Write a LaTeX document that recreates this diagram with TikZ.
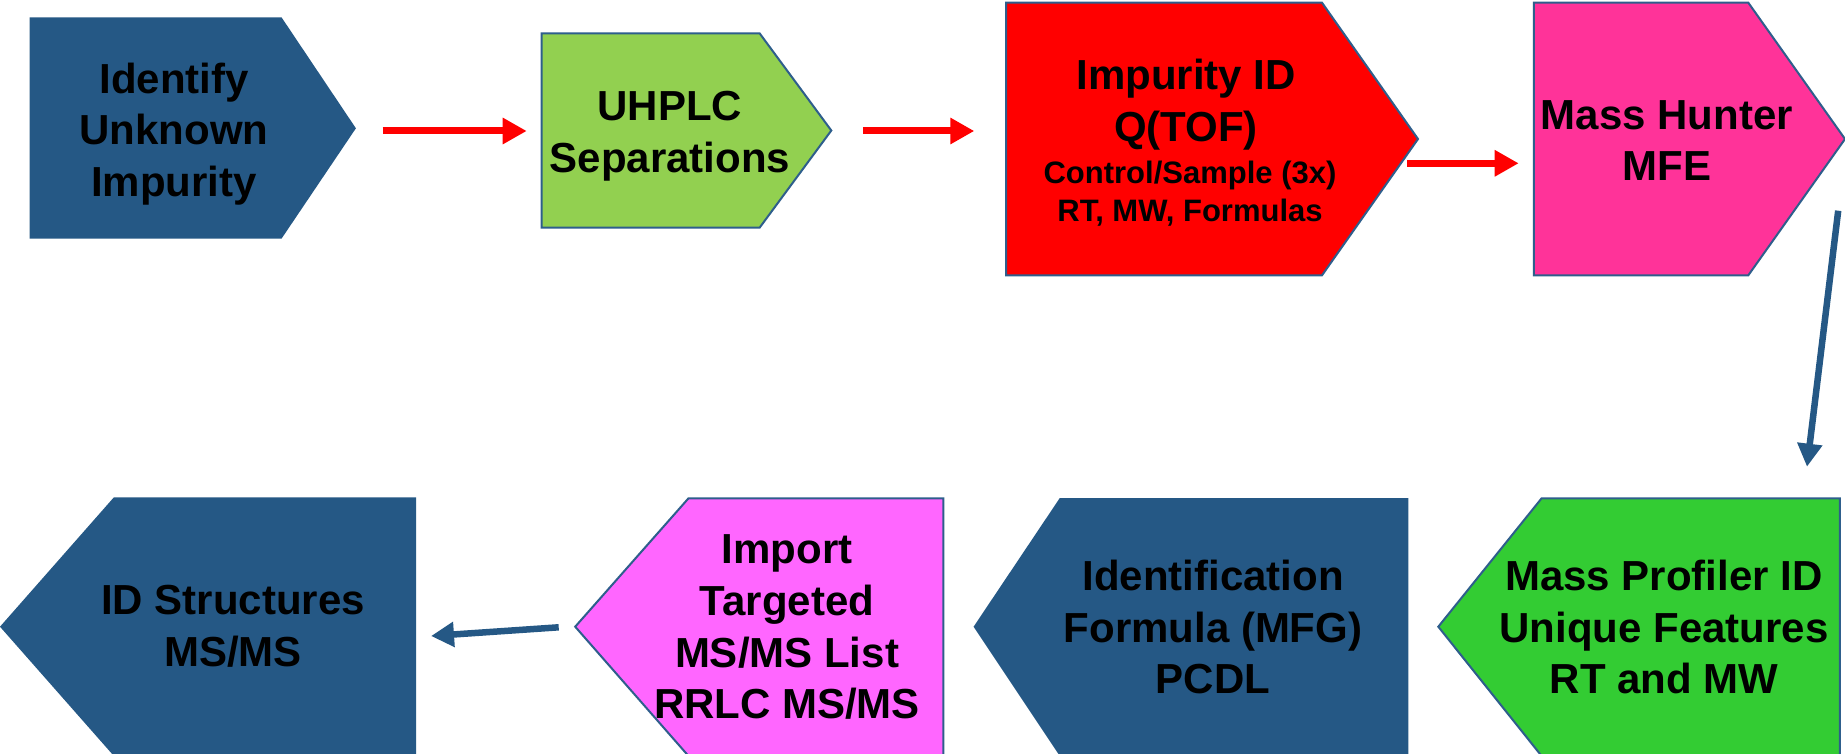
\documentclass[tikz,border=0pt]{standalone}
\usepackage{fontspec}
\setmainfont{Liberation Sans}
\usetikzlibrary{arrows.meta}
\definecolor{dblue}{HTML}{255885}
\definecolor{bordc}{HTML}{2E5E8C}
\definecolor{lgreen}{HTML}{92D050}
\definecolor{hpink}{HTML}{FF3399}
\definecolor{bgreen}{HTML}{33CC33}
\definecolor{magent}{HTML}{FF66FF}
\tikzset{
  box/.style={line width=2pt, draw=bordc, line join=miter},
  plainbox/.style={draw=none},
  lbl/.style={font=\fontsize{42}{51.7}\selectfont\bfseries, align=center, inner sep=0pt, text=black},
  smalllbl/.style={font=\fontsize{31}{38.4}\selectfont\bfseries, align=center, inner sep=0pt, text=black},
  redarrow/.style={draw=red, line width=7pt, -{Triangle[length=24pt,width=25pt]}},
  bluearrow/.style={draw=dblue, line width=6.5pt, -{Triangle[length=23pt,width=24pt]}},
}
\begin{document}
\begin{tikzpicture}[x=1pt,y=-1pt]
\useasboundingbox (0,0) rectangle (1845,754);
\fill[white] (0,0) rectangle (1845,754);
% top row
\fill[dblue] (29.7,17.3) -- (281.5,17.3) -- (355.9,128.3) -- (281.5,238.7) -- (29.7,238.7) -- cycle;
\filldraw[box, fill=lgreen] (541.7,33.3) -- (759.6,33.3) -- (831.3,130.5) -- (759.6,227.7) -- (541.7,227.7) -- cycle;
\filldraw[box, fill=red] (1006.2,2.7) -- (1322,2.7) -- (1418,139) -- (1322,275.3) -- (1006.2,275.3) -- cycle;
\filldraw[box, fill=hpink] (1533.9,2.7) -- (1748.3,2.7) -- (1845,139) -- (1748.3,275.3) -- (1533.9,275.3) -- cycle;
% bottom row
\filldraw[box, fill=bgreen] (1839.8,498.3) -- (1541.6,498.3) -- (1438.3,626.7) -- (1541.6,756) -- (1839.8,756) -- cycle;
\fill[dblue] (1408.4,498) -- (1059.8,498) -- (973.6,626.7) -- (1059.8,756) -- (1408.4,756) -- cycle;
\filldraw[box, fill=magent] (943.3,498.3) -- (688.5,498.3) -- (575.2,626.7) -- (688.5,756) -- (943.3,756) -- cycle;
\fill[dblue] (416,497.3) -- (113.9,497.3) -- (0,626.7) -- (113.9,756) -- (416,756) -- cycle;
% labels
\node[lbl] (t1) at (174,134) {Identify\\Unknown\\Impurity};
\node[lbl] (t2) at (670,136) {UHPLC\\Separations};
\node[lbl] (t3) at (1186,104.4) {Impurity ID\\Q(TOF)};
\node[smalllbl] (t3b) at (1190,193.5) {Control/Sample (3x)\\RT, MW, Formulas};
\node[lbl] (t4) at (1667,140.6) {Mass Hunter\\MFE};
\node[lbl] (t5) at (1664,627) {Mass Profiler ID\\Unique Features\\RT and MW};
\node[lbl] (t6) at (1213,627) {Identification\\Formula (MFG)\\PCDL};
\node[lbl] (t7) at (787,627.3) {Import\\Targeted\\MS/MS List\\RRLC MS/MS};
\node[lbl] (t8) at (233,626) {ID Structures\\MS/MS};
% connector ends
\coordinate (a1s) at (382.7,131);  \coordinate (a1e) at (526.7,131);
\coordinate (a2s) at (862.8,131);  \coordinate (a2e) at (974.3,131);
\coordinate (a3s) at (1407,163.3); \coordinate (a3e) at (1518.7,163.3);
\coordinate (a4s) at (1838.2,210.7); \coordinate (a4e) at (1807,466.7);
\coordinate (a5s) at (558.7,627.3); \coordinate (a5e) at (431,636);
\draw[redarrow] (a1s) -- (a1e);
\draw[redarrow] (a2s) -- (a2e);
\draw[redarrow] (a3s) -- (a3e);
\draw[bluearrow] (a4s) -- (a4e);
\draw[bluearrow] (a5s) -- (a5e);
\end{tikzpicture}
\end{document}
